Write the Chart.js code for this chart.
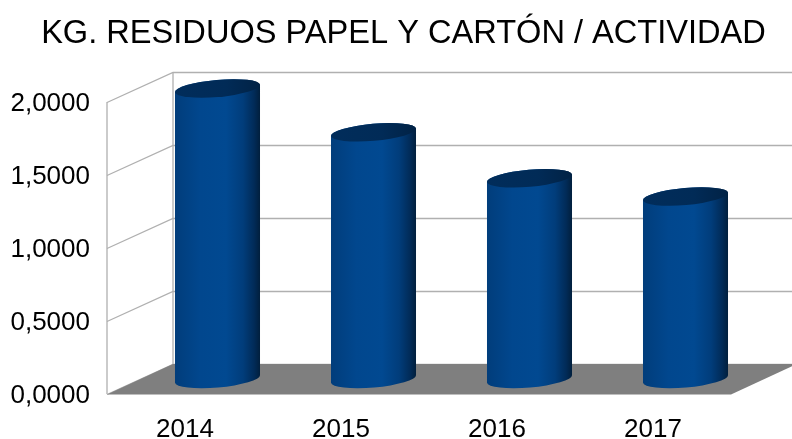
<!DOCTYPE html>
<html>
<head>
<meta charset="utf-8">
<script src="https://cdn.jsdelivr.net/npm/chart.js@4"></script>
<style>
    html, body { margin: 0; background: #fff; }
    canvas { display: block; }
</style>
</head>
<body>
<canvas id="residuosChart" width="792" height="439"></canvas>
<script>
// Chart data
const years = ['2014', '2015', '2016', '2017'];
const kgPerActivity = [1.99, 1.69, 1.375, 1.25];
const yTicks = [0, 0.5, 1, 1.5, 2];

// 3D look: how far the back wall sits from the front edge
const depthX = 66;
const depthY = -30;

const gridColor = '#b0b0b0';
const floorColor = '#7f7f7f';

// Walls, grid lines and floor, placed from the chart's own scales
const wallsPlugin = {
    id: 'walls',
    afterLayout(chart) {
        // title is centred on the whole picture, not the plot
        chart.titleBlock.left = 15;
        chart.titleBlock.right = chart.width;
    },
    beforeDatasetsDraw(chart) {
        const { ctx, chartArea, scales } = chart;
        const left = chartArea.left;
        const right = chartArea.right;
        const yZero = scales.y.getPixelForValue(0);
        const yMax = scales.y.getPixelForValue(2);

        ctx.save();
        ctx.strokeStyle = gridColor;
        ctx.lineWidth = 1.3;

        yTicks.forEach(v => {
            const py = Math.round(scales.y.getPixelForValue(v)) + 0.5;
            ctx.beginPath();
            ctx.moveTo(left, py);
            ctx.lineTo(left + depthX, py + depthY);
            ctx.lineTo(chart.width, py + depthY);
            ctx.stroke();
        });

        // wall edges
        ctx.beginPath();
        ctx.moveTo(left, yZero);
        ctx.lineTo(left, yMax);
        ctx.moveTo(left + depthX, yZero + depthY);
        ctx.lineTo(left + depthX, yMax + depthY);
        ctx.stroke();

        // floor
        ctx.fillStyle = floorColor;
        ctx.beginPath();
        ctx.moveTo(left, yZero + 0.5);
        ctx.lineTo(left + depthX, yZero + depthY);
        ctx.lineTo(right + depthX, yZero + depthY);
        ctx.lineTo(right, yZero + 0.5);
        ctx.closePath();
        ctx.fill();
        ctx.restore();
    },
    // Cylinders drawn over the (invisible) bar elements
    afterDatasetsDraw(chart) {
        const { ctx } = chart;
        const tilt = -5 * Math.PI / 180;
        const ry = 8.5;

        ctx.save();
        chart.getDatasetMeta(0).data.forEach(bar => {
            const cx = bar.x + depthX / 2 - 0.5;
            const top = bar.y + depthY / 2;
            const bottom = bar.base + depthY / 2;
            const halfW = bar.width / 2;
            const rx = halfW / Math.cos(tilt);

            const body = ctx.createLinearGradient(cx - halfW, 0, cx + halfW, 0);
            body.addColorStop(0, '#013d7b');
            body.addColorStop(0.3, '#01478e');
            body.addColorStop(0.6, '#014991');
            body.addColorStop(0.8, '#013d7b');
            body.addColorStop(0.93, '#012b58');
            body.addColorStop(1, '#011f3d');

            ctx.fillStyle = body;
            ctx.beginPath();
            ctx.ellipse(cx, top, rx, ry, tilt, Math.PI, 2 * Math.PI);
            ctx.ellipse(cx, bottom, rx, ry, tilt, 0, Math.PI);
            ctx.closePath();
            ctx.fill();

            const cap = ctx.createLinearGradient(cx - halfW, 0, cx + halfW, 0);
            cap.addColorStop(0, '#012d5b');
            cap.addColorStop(0.6, '#012b57');
            cap.addColorStop(1, '#012245');

            ctx.fillStyle = cap;
            ctx.beginPath();
            ctx.ellipse(cx, top, rx, ry, tilt, 0, 2 * Math.PI);
            ctx.fill();
        });
        ctx.restore();
    }
};

const ctx = document.getElementById('residuosChart').getContext('2d');
const residuosChart = new Chart(ctx, {
    type: 'bar',
    data: {
        labels: years,
        datasets: [{
            data: kgPerActivity,
            backgroundColor: 'transparent',
            barPercentage: 0.545,
            categoryPercentage: 1
        }]
    },
    options: {
        responsive: false,
        animation: false,
        layout: { padding: { right: 61 } },
        plugins: {
            legend: { display: false },
            tooltip: { enabled: false },
            title: {
                display: true,
                text: 'KG. RESIDUOS PAPEL Y CARTÓN / ACTIVIDAD',
                color: '#000',
                font: { family: '"Liberation Sans"', size: 32.6, weight: 'normal', lineHeight: 1.2 },
                padding: { top: 14, bottom: 48.9 }
            }
        },
        scales: {
            x: {
                grid: { display: false, drawTicks: false },
                border: { display: false },
                ticks: { color: '#000', padding: 20, maxRotation: 0, font: { family: '"Liberation Sans"', size: 26 } },
                afterFit(scale) { scale.height = 45; }
            },
            y: {
                min: 0,
                max: 2,
                afterBuildTicks(scale) { scale.ticks = yTicks.map(value => ({ value })); },
                grid: { display: false, drawTicks: false },
                border: { display: false },
                ticks: {
                    color: '#000',
                    padding: 17,
                    labelOffset: 2,
                    font: { family: '"Liberation Sans"', size: 26 },
                    callback: value => value.toFixed(4).replace('.', ',')
                },
                afterFit(scale) { scale.width = 107; }
            }
        }
    },
    plugins: [wallsPlugin]
});
</script>
</body>
</html>
